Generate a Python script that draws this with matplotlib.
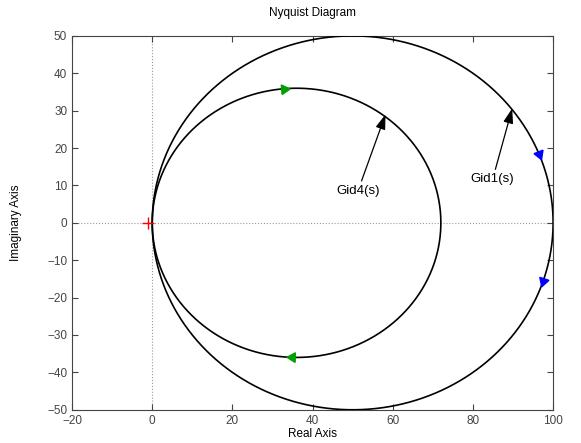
import numpy as np
import matplotlib.pyplot as plt

plt.rcParams['font.family'] = ['Liberation Sans', 'DejaVu Sans']

# transfer functions G(s) = K / (s + 1), DC gains
names = ["Gid1(s)", "Gid4(s)"]
dc_gain = [100, 72]
arrow_colors = ["blue", "#00a000"]
# frequencies where the direction arrows sit
arrow_w = [[-0.19, 0.16], [-1.09, 1.03]]
# label text position and arrow tip (data coords)
label_xy = [(84.9, 11.6), (51.3, 8.5)]
tip_xy = [(89.8, 30.6), (58.2, 29.0)]

fig = plt.figure(figsize=(5.81, 4.43), dpi=100)
ax = fig.add_axes([0.124, 0.075, 0.828, 0.844])

theta = np.linspace(-np.pi / 2 + 1e-4, np.pi / 2 - 1e-4, 2000)
w = np.tan(theta)
for k, col, aw in zip(dc_gain, arrow_colors, arrow_w):
    g = k / (1 + 1j * w)
    ax.plot(g.real, g.imag, color='black', lw=1.2, zorder=3)
    for wi in aw:
        p = k / (1 + 1j * wi)
        d = -1j * k / (1 + 1j * wi) ** 2
        ang = np.degrees(np.angle(d))
        ax.plot(p.real, p.imag, marker=(3, 0, ang - 90), color=col, ms=8,
                mec=col, zorder=4)

for name, lxy, txy in zip(names, label_xy, tip_xy):
    ax.annotate(name, xy=txy, xytext=lxy, ha='center', va='center', fontsize=9.5,
                arrowprops=dict(arrowstyle='-|>,head_length=0.6,head_width=0.2',
                                color='black', lw=0.9, shrinkA=1, shrinkB=0,
                                mutation_scale=15))

ax.axhline(0, color='#999999', ls=':', lw=0.8, zorder=1)
ax.axvline(0, color='#999999', ls=':', lw=0.8, zorder=1)
ax.plot(-1, 0, marker='+', color='red', ms=8, mew=1.0, zorder=5)

ax.set_xlim(-20, 100)
ax.set_ylim(-50, 50)
ax.set_xticks(range(-20, 101, 20))
ax.set_yticks(range(-50, 51, 10))
ax.tick_params(direction='in', top=True, right=True, labelsize=8.5,
               colors='#444444', length=4)
for s in ax.spines.values():
    s.set_color('#444444')

ax.set_xlabel("Real Axis", fontsize=8.5, labelpad=1)
ax.set_ylabel("Imaginary Axis", fontsize=8.5, labelpad=18)
ax.set_title("Nyquist Diagram", fontsize=8.5, pad=14)

fig.savefig("out.png", dpi=100)
